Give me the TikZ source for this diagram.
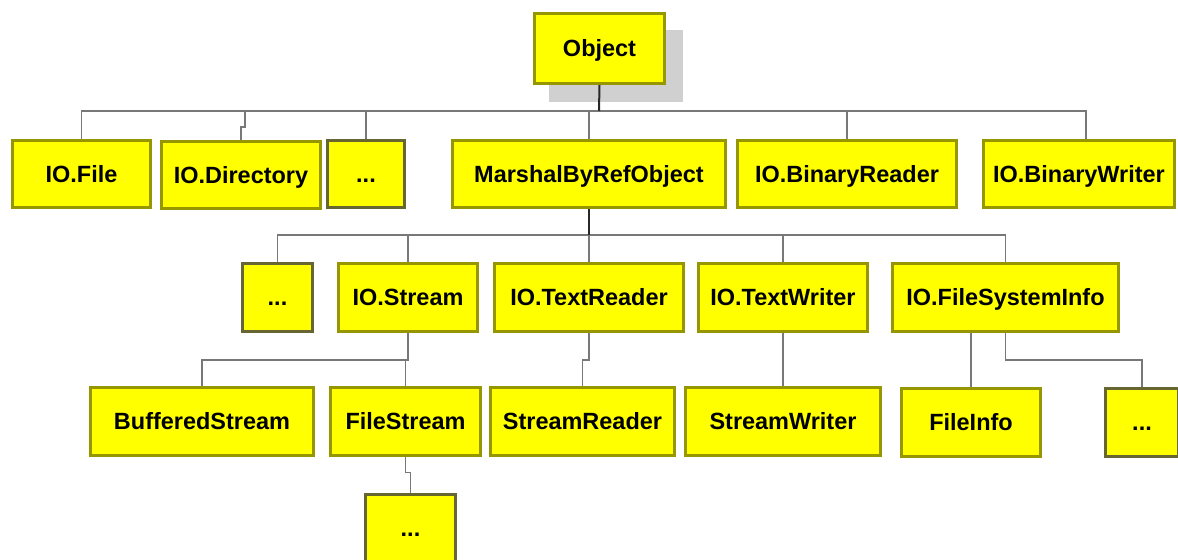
\documentclass[tikz,border=0pt]{standalone}
\usepackage{fontspec}
\setmainfont{Liberation Sans}
\usepackage{tikz}

\begin{document}
\begin{tikzpicture}[x=0.75pt,y=0.75pt,yscale=-1,xscale=1,
    clsbox/.style={draw={rgb, 255:red, 150; green, 150; blue, 0 }, line width=2.25pt,
      fill={rgb, 255:red, 255; green, 255; blue, 0 }, inner sep=0.75pt,
      text height=12.6pt, text depth=0pt,
      minimum height=50.5pt, font=\fontsize{17.6}{21}\selectfont\bfseries},
    dotsbox/.style={clsbox, draw={rgb, 255:red, 102; green, 102; blue, 51 }},
    conn/.style={draw={rgb, 255:red, 120; green, 120; blue, 120 }, line width=1.1pt},
    connd/.style={draw={rgb, 255:red, 40; green, 40; blue, 40 }, line width=1.5pt}]
    \useasboundingbox (0,0) rectangle (1178,560);

    %Shape: Shadow of Object
    \fill [fill={rgb, 255:red, 208; green, 208; blue, 208 }] (549,30) rectangle (683,102);

    % Text Node
    \node [clsbox, minimum width=97.5pt, minimum height=52.5pt] (obj) at (599.5,48.5) {Object};

    % row 1
    \node [clsbox, minimum width=103.5pt] (file) at (81.5,174) {IO.File};
    \node [clsbox, minimum width=119.25pt] (dir) at (241,175) {IO.Directory};
    \node [dotsbox, minimum width=57.75pt] (dotsa) at (366,174) {...};
    \node [clsbox, minimum width=204.75pt] (mbro) at (589,174) {MarshalByRefObject};
    \node [clsbox, minimum width=164.25pt] (bread) at (847,174) {IO.BinaryReader};
    \node [clsbox, minimum width=143.25pt] (bwrite) at (1079,174) {IO.BinaryWriter};

    % row 2
    \node [dotsbox, minimum width=52.5pt] (dotsb) at (277.5,297.5) {...};
    \node [clsbox, minimum width=104.25pt] (stream) at (408,297.5) {IO.Stream};
    \node [clsbox, minimum width=141.75pt] (treader) at (589,297.5) {IO.TextReader};
    \node [clsbox, minimum width=126.75pt] (twriter) at (783,297.5) {IO.TextWriter};
    \node [clsbox, minimum width=169.5pt] (fsinfo) at (1005.5,297.5) {IO.FileSystemInfo};

    % row 3
    \node [clsbox, minimum width=167.25pt] (buffered) at (202,421.5) {BufferedStream};
    \node [clsbox, minimum width=112.5pt] (filestream) at (405.5,421.5) {FileStream};
    \node [clsbox, minimum width=138pt] (sreader) at (582.5,421.5) {StreamReader};
    \node [clsbox, minimum width=146.25pt] (swriter) at (783,421.5) {StreamWriter};
    \node [clsbox, minimum width=104.25pt] (fileinfo) at (971,422.5) {FileInfo};
    \node [dotsbox, minimum width=54.75pt] (dotsc) at (1142,422.5) {...};

    % row 4
    \node [dotsbox, minimum width=67.5pt] (dotsd) at (410.5,528) {...};

    \coordinate (busa) at (599,111);
    \coordinate (busb) at (589,235);
    \coordinate (busc) at (408,360);

    % Object -> row 1
    \draw [conn] (file.north) |- (busa) -| ([xshift=5.25pt]bwrite.north);
    \draw [connd] (obj.south) -- (busa);
    \draw [conn] (dir.north) -- ++(0,-13) -- ++(4,0) -- ++(0,-17);
    \draw [conn] (dotsa.north) -- (dotsa.north |- busa);
    \draw [conn] (mbro.north) -- (mbro.north |- busa);
    \draw [conn] (bread.north) -- (bread.north |- busa);

    % MarshalByRefObject -> row 2
    \draw [conn] (dotsb.north) |- (busb) -| (fsinfo.north);
    \draw [connd] (mbro.south) -- (busb);
    \draw [conn] (busb) -- (treader.north);
    \draw [conn] (stream.north) -- (stream.north |- busb);
    \draw [conn] (twriter.north) -- (twriter.north |- busb);

    % row 2 -> row 3
    \draw [conn] (stream.south) -- (busc) -| (buffered.north);
    \draw [conn] (busc) -| (filestream.north);
    \draw [conn] (treader.south) -- (treader.south |- busc) -| (sreader.north);
    \draw [conn] (twriter.south) -- (swriter.north);
    \draw [conn] (fileinfo.north |- fsinfo.south) -- (fileinfo.north);
    \draw [conn] (fsinfo.south) -- (fsinfo.south |- busc) -| (dotsc.north);

    % FileStream -> row 4
    \draw [conn] (filestream.south) -- ++(0,16) -| (dotsd.north);
\end{tikzpicture}
\end{document}
